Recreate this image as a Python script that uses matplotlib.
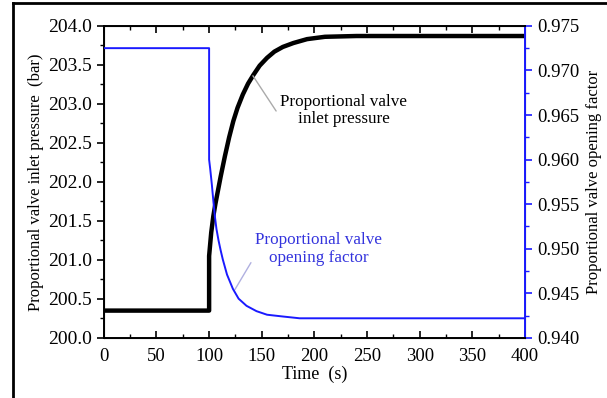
import numpy as np
import matplotlib
matplotlib.use('Agg')
from matplotlib import pyplot as plt
from matplotlib.lines import Line2D
from matplotlib.ticker import MultipleLocator, FormatStrFormatter

plt.rcParams['font.family'] = ['Liberation Serif', 'DejaVu Serif']

# inlet pressure (bar)
t_p = [0, 100, 100, 102, 104, 106, 108, 111, 115, 119, 123, 127, 132, 137, 142,
       148, 155, 162, 170, 180, 193, 210, 240, 400]
pressure = [200.35, 200.35, 201.05, 201.35, 201.56, 201.72, 201.86, 202.07, 202.33,
            202.57, 202.78, 202.95, 203.12, 203.26, 203.37, 203.49, 203.59, 203.67,
            203.73, 203.78, 203.83, 203.86, 203.87, 203.87]

# valve opening factor
t_f = [0, 100, 100, 101, 102.6, 104, 105.5, 107, 109, 111, 113, 117, 122.6, 128,
       135.5, 145, 155, 170, 186, 400]
factor = [0.9725, 0.9725, 0.9600, 0.9590, 0.9572, 0.9554, 0.9536, 0.9522, 0.9509,
          0.9498, 0.9488, 0.9471, 0.9455, 0.9444, 0.9436, 0.9430, 0.9426, 0.9424,
          0.9422, 0.9422]

fig = plt.figure(figsize=(6.07, 3.98), dpi=100)
ax = fig.add_axes([0.171, 0.151, 0.694, 0.784])
ax2 = ax.twinx()

ax.plot(t_p, pressure, color='k', lw=3.2, zorder=3, solid_joinstyle='round')
ax2.plot(t_f, factor, color='#1a1aff', lw=1.4, zorder=3, solid_joinstyle='round')

ax.set_xlim(0, 400)
ax.set_ylim(200.0, 204.0)
ax2.set_ylim(0.940, 0.975)

ax.xaxis.set_major_locator(MultipleLocator(50))
ax.xaxis.set_minor_locator(MultipleLocator(25))
ax.yaxis.set_major_locator(MultipleLocator(0.5))
ax.yaxis.set_minor_locator(MultipleLocator(0.25))
ax.yaxis.set_major_formatter(FormatStrFormatter('%.1f'))
ax2.yaxis.set_major_locator(MultipleLocator(0.005))
ax2.yaxis.set_minor_locator(MultipleLocator(0.0025))
ax2.yaxis.set_major_formatter(FormatStrFormatter('%.3f'))

ax.tick_params(axis='x', which='both', direction='in', top=True, labelsize=13.5, pad=7)
ax.tick_params(axis='x', which='major', length=5, width=1.2)
ax.tick_params(axis='x', which='minor', length=3, width=1.0)
ax.tick_params(axis='y', which='both', direction='out', labelsize=14)
ax.tick_params(axis='y', which='major', length=5, width=1.2)
ax.tick_params(axis='y', which='minor', length=3, width=1.0)
ax2.tick_params(axis='y', which='both', direction='out', color='#1a1aff', labelsize=13.5)
ax2.tick_params(axis='y', which='major', length=5, width=1.2)
ax2.tick_params(axis='y', which='minor', length=3, width=1.0)

for s in ['left', 'bottom', 'top']:
    ax2.spines[s].set_linewidth(1.4)
ax2.spines['right'].set_color('#1a1aff')
ax2.spines['right'].set_linewidth(1.4)

ax.set_xlabel('Time  (s)', fontsize=13, labelpad=1)
ax.set_ylabel('Proportional valve inlet pressure  (bar)', fontsize=12, labelpad=3)
ax2.set_ylabel('Proportional valve opening factor', fontsize=12, labelpad=5)

ax.annotate('Proportional valve\ninlet pressure', xy=(141.6, 203.36), xytext=(228, 202.91),
            ha='center', va='center', fontsize=12.3, linespacing=1.1,
            arrowprops=dict(arrowstyle='-', color='#aaaaaa', lw=1.0, shrinkA=2, shrinkB=0,
                            relpos=(0.0, 0.3)))
ax.annotate('Proportional valve\nopening factor', xy=(124.5, 200.62), xytext=(204, 201.14),
            ha='center', va='center', fontsize=12.3, color='#3333dd', linespacing=1.1,
            arrowprops=dict(arrowstyle='-', color='#b0b0e0', lw=1.0, shrinkA=2, shrinkB=0,
                            relpos=(0.0, 0.3)))

# frame lines at left and top of the picture
fig.add_artist(Line2D([13 / 607, 13 / 607], [0, 1 - 3 / 398], color='k', lw=2))
fig.add_artist(Line2D([13 / 607, 1], [1 - 3 / 398, 1 - 3 / 398], color='k', lw=2))

plt.savefig('out.png', dpi=100)
